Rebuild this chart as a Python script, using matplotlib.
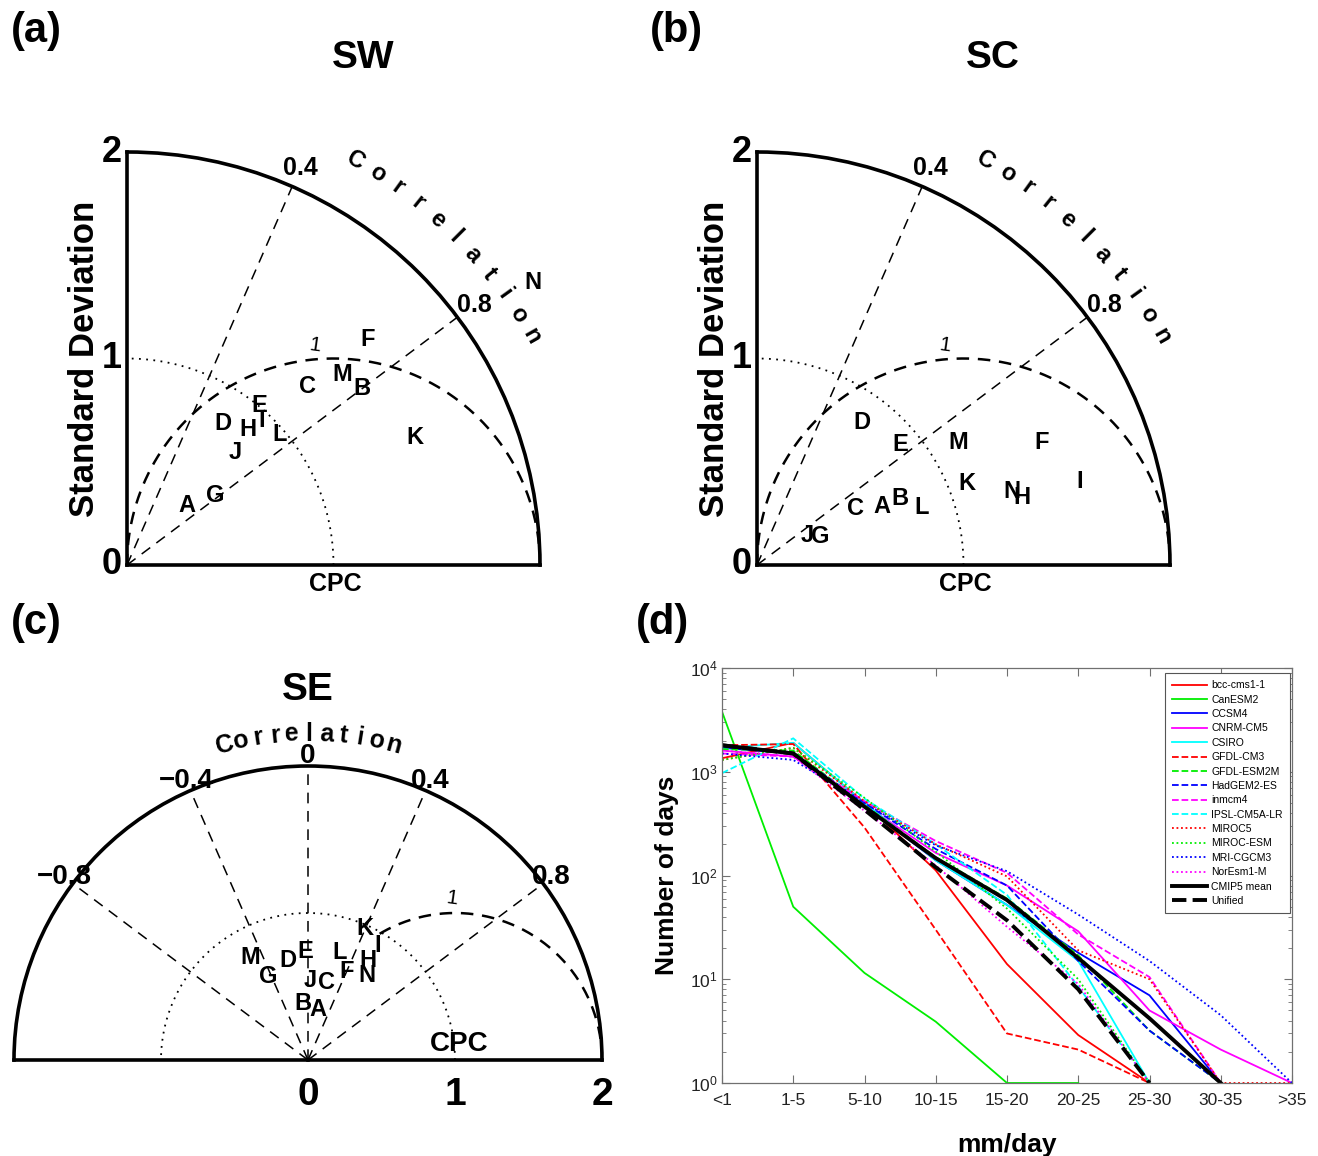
import numpy as np
import matplotlib
matplotlib.use('Agg')
import matplotlib.pyplot as plt

plt.rcParams['font.family'] = ['Liberation Sans', 'DejaVu Sans']
plt.rcParams['mathtext.fontset'] = 'custom'
plt.rcParams['mathtext.rm'] = 'Liberation Sans'
plt.rcParams['mathtext.default'] = 'regular'

W, H = 1318, 1156
nan = np.nan

# ---- Taylor diagram data (standard deviation, correlation) ----
letters = list('ABCDEFGHIJKLMN')

sw_std  = [0.41, 1.425, 1.226, 0.83, 1.004, 1.597, 0.544, 0.878, 0.959, 0.757, 1.525, 0.975, 1.389, 2.394]
sw_corr = [0.708, 0.799, 0.711, 0.56, 0.636, 0.731, 0.783, 0.667, 0.682, 0.691, 0.915, 0.76, 0.749, 0.821]

sc_std  = [0.667, 0.764, 0.549, 0.855, 0.904, 1.501, 0.334, 1.324, 1.615, 0.282, 1.092, 0.845, 1.141, 1.284]
sc_corr = [0.907, 0.906, 0.865, 0.594, 0.766, 0.919, 0.913, 0.969, 0.968, 0.858, 0.932, 0.945, 0.853, 0.961]

se_std  = [0.347, 0.389, 0.54, 0.693, 0.735, 0.655, 0.627, 0.793, 0.91, 0.544, 0.978, 0.76, 0.804, 0.703]
se_corr = [0.196, -0.087, 0.239, -0.196, -0.027, 0.405, -0.434, 0.514, 0.523, 0.026, 0.397, 0.287, -0.491, 0.57]

# ---- (d) number of days per intensity bin ----
bins = ['<1', '1-5', '5-10', '10-15', '15-20', '20-25', '25-30', '30-35', '>35']

bcc_csm1_1 = [1350, 1900, 500, 112, 14, 2.9, 1, nan, nan]
canesm2    = [3800, 50, 11.5, 3.9, 1, 1, nan, nan, nan]
ccsm4      = [1700, 1500, 470, 140, 52, 18, 7, 1, nan]
cnrm_cm5   = [1600, 1400, 480, 165, 80, 29, 5, 2.1, 1]
csiro      = [1700, 1900, 500, 140, 52, 15, 1, nan, nan]
gfdl_cm3   = [1800, 1850, 290, 30, 3.0, 2.1, 1, nan, nan]
gfdl_esm2m = [1650, 1600, 480, 150, 60, 17, 3.2, 1, nan]
hadgem2_es = [1750, 1500, 500, 180, 80, 15, 3.2, 1, nan]
inmcm4     = [1500, 1400, 520, 215, 106, 27, 10.5, 1, nan]
ipsl_cm5a  = [970, 2100, 550, 200, 65, 8.5, 1, nan, nan]
miroc5     = [1300, 1700, 520, 200, 98, 19, 10, 1, 1]
miroc_esm  = [1300, 1700, 560, 170, 48, 10, 1, nan, nan]
mri_cgcm3  = [1500, 1300, 500, 195, 110, 42, 15, 4.5, 1]
noresm1_m  = [1600, 1400, 420, 125, 32, 9, 1, nan, nan]
cmip5_mean = [1800, 1500, 460, 147, 58, 16, 4.2, 1, nan]
unified    = [1800, 1500, 430, 120, 37, 8, 1, nan, nan]

names = ['bcc-cms1-1', 'CanESM2', 'CCSM4', 'CNRM-CM5', 'CSIRO', 'GFDL-CM3', 'GFDL-ESM2M',
         'HadGEM2-ES', 'inmcm4', 'IPSL-CM5A-LR', 'MIROC5', 'MIROC-ESM', 'MRI-CGCM3',
         'NorEsm1-M', 'CMIP5 mean', 'Unified']
series = [bcc_csm1_1, canesm2, ccsm4, cnrm_cm5, csiro, gfdl_cm3, gfdl_esm2m, hadgem2_es,
          inmcm4, ipsl_cm5a, miroc5, miroc_esm, mri_cgcm3, noresm1_m, cmip5_mean, unified]
colors = ['#ff0000', '#00ee00', '#0000ff', '#ff00ff', '#00ffff'] * 3 + ['k']
colors = colors[:14] + ['k', 'k']
dots = (0, (1, 1.5))
styles = ['-'] * 5 + ['--'] * 5 + [dots] * 4 + ['-', '--']
widths = [1.3] * 14 + [2.8, 2.8]


def rect(x0, y0, x1, y1):
    # pixel box (origin top-left) -> figure fraction
    return [x0 / W, 1 - y1 / H, (x1 - x0) / W, (y1 - y0) / H]


def taylor_axes(box, tmax):
    ax = fig.add_axes(box, projection='polar')
    ax.set_thetamin(0)
    ax.set_thetamax(tmax)
    ax.set_rlim(0, 2)
    ax.set_xticks([])
    ax.set_yticks([])
    ax.grid(False)
    for sp in ax.spines.values():
        sp.set_linewidth(2.6)
        sp.set_color('k')
    return ax


def curved_word(ax, word, a0, a1, r, size):
    for ch, a in zip(word, np.linspace(a0, a1, len(word))):
        ax.text(np.deg2rad(a), r, ch, rotation=a - 90, rotation_mode='anchor',
                ha='center', va='center', fontsize=size, fontweight='bold')


def quadrant(box, std, corr):
    ax = taylor_axes(box, 90)
    th = np.linspace(0, np.pi / 2, 200)
    ax.plot(th, np.ones_like(th), color='k', lw=1.3, ls=(0, (1, 3)))
    ax.plot(th, 2 * np.cos(th), color='k', lw=1.8, ls=(0, (5, 3.5)))
    for c in [0.4, 0.8]:
        ax.plot([np.arccos(c)] * 2, [0, 2], color='k', lw=1.1, ls=(0, (7, 5)))
        ax.text(np.arccos(c), 2.1, str(c), ha='center', va='center',
                fontsize=18, fontweight='bold')
    for r in [0, 1, 2]:
        ax.annotate(str(r), xy=(np.pi / 2, r), xytext=(-5, 0), textcoords='offset pixels',
                    ha='right', va='center', fontsize=26, fontweight='bold')
    ax.annotate('CPC', xy=(0, 1.01), xytext=(0, -7), textcoords='offset pixels',
                ha='center', va='top', fontsize=18, fontweight='bold')
    ax.annotate('Standard Deviation', xy=(np.pi / 2, 1), xytext=(-42, 0),
                textcoords='offset pixels', rotation=90, ha='center', va='center',
                fontsize=25, fontweight='bold')
    ax.text(np.deg2rad(49.5), 1.40, '1', rotation=-8, ha='center', va='center', fontsize=15)
    curved_word(ax, 'Correlation', 60.5, 29.5, 2.25, 17)
    for lab, s, c in zip(letters, std, corr):
        ax.text(np.arccos(c), s, lab, ha='center', va='center', fontsize=17, fontweight='bold')
    return ax


fig = plt.figure(figsize=(W / 100, H / 100), dpi=100)

# (a) SW and (b) SC
quadrant(rect(127, 152, 540, 565), sw_std, sw_corr)
quadrant(rect(757, 152, 1170, 565), sc_std, sc_corr)

# (c) SE half circle (polar wedge is padded to a square box)
R = 294
axc = taylor_axes(rect(308 - R, 1060 - 1.5 * R, 308 + R, 1060 + 0.5 * R), 180)
th = np.linspace(0, np.pi, 300)
axc.plot(th, np.ones_like(th), color='k', lw=1.3, ls=(0, (1, 3)))
th = np.linspace(0, np.deg2rad(62), 200)
axc.plot(th, 2 * np.cos(th), color='k', lw=1.8, ls=(0, (5, 3.5)))
for c in [-0.8, -0.4, 0, 0.4, 0.8]:
    axc.plot([np.arccos(c)] * 2, [0, 2], color='k', lw=1.1, ls=(0, (7, 5)))
    lab = str(c).replace('-', '\u2212') if c != 0 else '0'
    axc.text(np.arccos(c), 2.07, lab, ha='center', va='center', fontsize=20, fontweight='bold')
for r in [0, 1, 2]:
    axc.annotate(str(r), xy=(0, r), xytext=(0, -17), textcoords='offset pixels',
                 ha='center', va='top', fontsize=28, fontweight='bold')
axc.annotate('CPC', xy=(0, 1.03), xytext=(0, 3), textcoords='offset pixels',
             ha='center', va='bottom', fontsize=20, fontweight='bold')
axc.text(np.deg2rad(48.3), 1.47, '1', rotation=-8, ha='center', va='center', fontsize=15)
curved_word(axc, 'Correlation', 104.8, 74.8, 2.22, 18)
for lab, s, c in zip(letters, se_std, se_corr):
    axc.text(np.arccos(c), s, lab, ha='center', va='center', fontsize=17, fontweight='bold')

# (d) frequency distribution
axd = fig.add_axes(rect(722, 668, 1292, 1083))
x = np.arange(1, len(bins) + 1)
for vals, name, col, ls, lw in zip(series, names, colors, styles, widths):
    axd.plot(x, vals, color=col, ls=ls, lw=lw, label=name)
axd.set_yscale('log')
axd.set_xlim(1, len(bins))
axd.set_ylim(1, 1e4)
axd.set_xticks(x)
axd.set_xticklabels(bins)
axd.set_yticks([1, 10, 100, 1000, 10000])
axd.set_yticklabels(['$10^{%d}$' % i for i in range(5)])
axd.tick_params(which='both', direction='in', top=True, right=True, colors='#707070',
                labelcolor='#222222', labelsize=12.5)
axd.tick_params(axis='x', pad=7)
axd.tick_params(axis='y', pad=3)
axd.tick_params(which='major', length=6)
axd.tick_params(which='minor', length=3)
for sp in axd.spines.values():
    sp.set_color('#707070')
    sp.set_linewidth(0.9)
axd.set_xlabel('mm/day', fontsize=19, fontweight='bold', labelpad=18)
axd.set_ylabel('Number of days', fontsize=19, fontweight='bold', labelpad=8)
leg = axd.legend(loc='upper right', bbox_to_anchor=(0.9965, 0.988), fontsize=7.5,
                 fancybox=False, edgecolor='#555555', framealpha=1, borderaxespad=0,
                 handlelength=3.3, handletextpad=0.45, labelspacing=0.42, borderpad=0.7)
leg.get_frame().set_linewidth(0.8)

# titles and panel labels
def ftext(x, y, s, size):
    fig.text(x / W, 1 - y / H, s, ha='center', va='center', fontsize=size, fontweight='bold')

ftext(363, 58, 'SW', 28)
ftext(993, 58, 'SC', 28)
ftext(308, 690, 'SE', 28)
ftext(36, 31, '(a)', 30)
ftext(676, 31, '(b)', 30)
ftext(36, 623, '(c)', 30)
ftext(662, 623, '(d)', 30)

fig.savefig('out.png', dpi=100, facecolor='white')
